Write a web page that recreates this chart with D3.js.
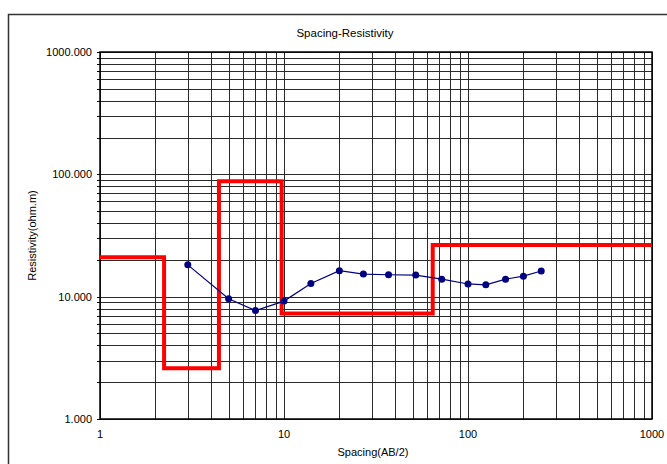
<!DOCTYPE html>
<html>
<head>
<meta charset="utf-8">
<script src="https://cdn.jsdelivr.net/npm/d3@7"></script>
<style>
  html, body { margin: 0; padding: 0; background: #fff; }
  svg { display: block; font-family: "Liberation Sans", Arial, sans-serif; }
</style>
</head>
<body>
<svg id="chart" width="667" height="464"></svg>
<script>
// Measured apparent resistivity by half electrode spacing AB/2
const spacing = [3, 5, 7, 10, 14, 20, 27, 37, 52, 72, 100, 125, 160, 200, 250];
const resistivity = [18.2, 9.6, 7.7, 9.2, 12.8, 16.3, 15.3, 15.1, 15.0, 13.9, 12.7, 12.5, 13.9, 14.7, 16.2];

// Interpreted layer model: boundaries (on the AB/2 axis) and layer resistivities
const layerBoundaries = [2.23, 4.43, 9.71, 64.3];
const layerResistivity = [21.0, 2.6, 88.0, 7.3, 26.5];

const xTickLabels = ["1", "10", "100", "1000"];
const yTickLabels = ["1.000", "10.000", "100.000", "1000.000"];

const svg = d3.select("#chart");
const margin = { left: 100, right: 15, top: 52, bottom: 45 };
const W = 667, H = 464;
const plotW = W - margin.left - margin.right;  // 552
const plotH = H - margin.top - margin.bottom;  // 367

const x = d3.scaleLog().domain([1, 1000]).range([margin.left, margin.left + plotW]);
const y = d3.scaleLog().domain([1, 1000]).range([margin.top + plotH, margin.top]);

// outer chart frame
svg.append("rect")
  .attr("x", 8.5).attr("y", 14.5)
  .attr("width", 700).attr("height", 500)
  .attr("fill", "none").attr("stroke", "#333").attr("stroke-width", 1.5);

// title
svg.append("text")
  .attr("x", 345).attr("y", 37)
  .attr("text-anchor", "middle")
  .attr("font-size", 11.5)
  .text("Spacing-Resistivity");

// grid lines at every log tick
const gridG = svg.append("g").attr("shape-rendering", "crispEdges");
const xTicks = x.ticks(30);
const yTicks = y.ticks(30);
gridG.selectAll(".vx").data(xTicks).join("line")
  .attr("x1", d => Math.round(x(d)) + 0.5).attr("x2", d => Math.round(x(d)) + 0.5)
  .attr("y1", margin.top).attr("y2", margin.top + plotH)
  .attr("stroke", "#2a2a2a").attr("stroke-width", 1);
gridG.selectAll(".hy").data(yTicks).join("line")
  .attr("y1", d => Math.round(y(d)) + 0.5).attr("y2", d => Math.round(y(d)) + 0.5)
  .attr("x1", margin.left).attr("x2", margin.left + plotW)
  .attr("stroke", "#2a2a2a").attr("stroke-width", 1);

// small outward ticks on the left axis
gridG.selectAll(".ty").data(yTicks).join("line")
  .attr("y1", d => Math.round(y(d)) + 0.5).attr("y2", d => Math.round(y(d)) + 0.5)
  .attr("x1", margin.left - 3).attr("x2", margin.left)
  .attr("stroke", "#000");

// plot border
svg.append("rect")
  .attr("x", margin.left).attr("y", margin.top)
  .attr("width", plotW).attr("height", plotH)
  .attr("fill", "none").attr("stroke", "#000").attr("stroke-width", 1.5);

// tick labels from the label arrays
svg.selectAll(".xl").data(xTickLabels).join("text")
  .attr("x", d => x(+d)).attr("y", margin.top + plotH + 19)
  .attr("text-anchor", "middle").attr("font-size", 11)
  .text(d => d);

svg.selectAll(".yl").data(yTickLabels).join("text")
  .attr("x", margin.left - 8).attr("y", d => y(+d) + 4)
  .attr("text-anchor", "end").attr("font-size", 11)
  .text(d => d);

svg.append("text")
  .attr("x", 373).attr("y", 456)
  .attr("text-anchor", "middle").attr("font-size", 11)
  .text("Spacing(AB/2)");

svg.append("text")
  .attr("transform", `translate(36,${margin.top + plotH / 2}) rotate(-90)`)
  .attr("text-anchor", "middle").attr("font-size", 11)
  .text("Resistivity(ohm.m)");

// layer model step line
const edges = [1, ...layerBoundaries, 1000];
const stepPts = [];
layerResistivity.forEach((r, i) => {
  stepPts.push([edges[i], r]);
  stepPts.push([edges[i + 1], r]);
});
svg.append("path")
  .datum(stepPts)
  .attr("d", d3.line().x(d => x(d[0])).y(d => y(d[1])))
  .attr("fill", "none").attr("stroke", "#ff0000").attr("stroke-width", 4)
  .attr("stroke-linejoin", "miter");

// measured curve
const pts = spacing.map((s, i) => [s, resistivity[i]]);
svg.append("path")
  .datum(pts)
  .attr("d", d3.line().x(d => x(d[0])).y(d => y(d[1])))
  .attr("fill", "none").attr("stroke", "#000080").attr("stroke-width", 1.2);
svg.selectAll(".pt").data(pts).join("circle")
  .attr("cx", d => x(d[0])).attr("cy", d => y(d[1]))
  .attr("r", 3.5).attr("fill", "#000080");
</script>
</body>
</html>
